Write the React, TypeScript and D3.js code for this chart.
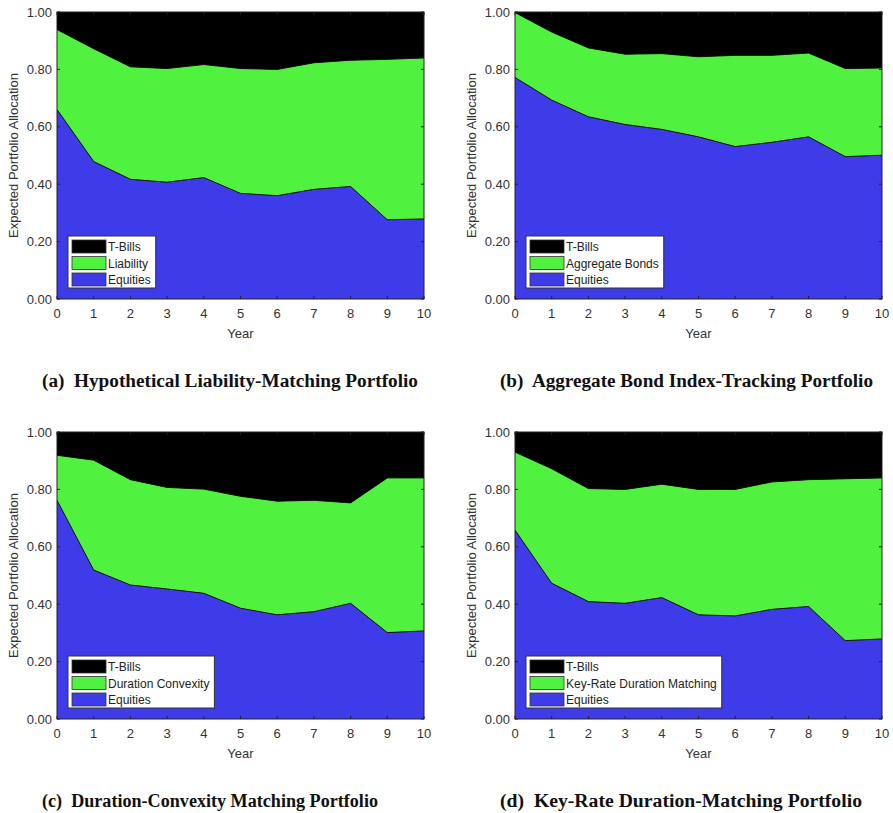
import React from "react";
import * as d3 from "d3";

const years = [0, 1, 2, 3, 4, 5, 6, 7, 8, 9, 10];
const yTicks = [0, 0.2, 0.4, 0.6, 0.8, 1.0];
const seriesKeys = ["equities", "bonds", "tbills"];
const colors = { equities: "#3d3ce8", bonds: "#50f23f", tbills: "#000000" };

// Panel (a)
const eqA = [0.660, 0.479, 0.417, 0.407, 0.423, 0.368, 0.360, 0.382, 0.392, 0.276, 0.279];
const bondA = [0.279, 0.393, 0.392, 0.396, 0.394, 0.435, 0.440, 0.441, 0.440, 0.559, 0.561];
const tbA = [0.061, 0.128, 0.191, 0.197, 0.183, 0.197, 0.200, 0.177, 0.168, 0.165, 0.160];
// Panel (b)
const eqB = [0.772, 0.693, 0.635, 0.608, 0.591, 0.565, 0.531, 0.546, 0.565, 0.496, 0.501];
const bondB = [0.226, 0.237, 0.240, 0.245, 0.264, 0.279, 0.318, 0.303, 0.292, 0.307, 0.304];
const tbB = [0.002, 0.070, 0.125, 0.147, 0.145, 0.156, 0.151, 0.151, 0.143, 0.197, 0.195];
// Panel (c)
const eqC = [0.762, 0.519, 0.467, 0.453, 0.438, 0.386, 0.363, 0.374, 0.403, 0.301, 0.307];
const bondC = [0.157, 0.383, 0.367, 0.354, 0.363, 0.390, 0.396, 0.388, 0.350, 0.539, 0.533];
const tbC = [0.081, 0.098, 0.166, 0.193, 0.199, 0.224, 0.241, 0.238, 0.247, 0.160, 0.160];
// Panel (d)
const eqD = [0.658, 0.473, 0.409, 0.403, 0.423, 0.363, 0.359, 0.382, 0.392, 0.273, 0.279];
const bondD = [0.272, 0.399, 0.394, 0.397, 0.395, 0.437, 0.441, 0.444, 0.442, 0.564, 0.561];
const tbD = [0.070, 0.128, 0.197, 0.200, 0.182, 0.200, 0.200, 0.174, 0.166, 0.163, 0.160];

const bondLabels = ["Liability", "Aggregate Bonds", "Duration Convexity", "Key-Rate Duration Matching"];
const captions = [
  "(a)  Hypothetical Liability-Matching Portfolio",
  "(b)  Aggregate Bond Index-Tracking Portfolio",
  "(c)  Duration-Convexity Matching Portfolio",
  "(d)  Key-Rate Duration-Matching Portfolio",
];

const panelData = [
  [eqA, bondA, tbA],
  [eqB, bondB, tbB],
  [eqC, bondC, tbC],
  [eqD, bondD, tbD],
];

const layouts = [
  { x0: 57, x1: 424, y0: 12, y1: 299, capX: 42, capY: 387, capW: 376 },
  { x0: 515, x1: 882, y0: 12, y1: 299, capX: 500, capY: 387, capW: 373 },
  { x0: 57, x1: 424, y0: 432, y1: 719, capX: 42, capY: 807, capW: 336 },
  { x0: 515, x1: 882, y0: 432, y1: 719, capX: 500, capY: 807, capW: 362 },
];

const sans = "Arial, 'Liberation Sans', Helvetica, sans-serif";
const serif = "'Times New Roman', 'Liberation Serif', serif";

function measure(text: string, font: string): number {
  const c = document.createElement("canvas");
  const ctx = c.getContext("2d");
  if (!ctx) return text.length * 6;
  ctx.font = font;
  return ctx.measureText(text).width;
}

function Panel({ idx }: { idx: number }) {
  const L = layouts[idx];
  const [eq, bond, tb] = panelData[idx];
  const rows = years.map((y, i) => ({ year: y, equities: eq[i], bonds: bond[i], tbills: tb[i] }));
  const stack = d3.stack<any>().keys(seriesKeys)(rows);
  const x = d3.scaleLinear().domain([0, 10]).range([L.x0, L.x1]);
  const y = d3.scaleLinear().domain([0, 1]).range([L.y1, L.y0]);
  const area = d3
    .area<any>()
    .x((d) => x(d.data.year))
    .y0((d) => y(d[0]))
    .y1((d) => y(Math.min(1, d[1])));
  const line = d3
    .line<any>()
    .x((d) => x(d.data.year))
    .y((d) => y(Math.min(1, d[1])));

  const legendItems = [
    { label: "T-Bills", color: colors.tbills },
    { label: bondLabels[idx], color: colors.bonds },
    { label: "Equities", color: colors.equities },
  ];
  const textW = Math.max(...legendItems.map((it) => measure(it.label, `12px ${sans}`)));
  const lx = L.x0 + 11;
  const ly = L.y1 - 63;
  const lw = 40 + textW + 5;
  const lh = 52;

  return (
    <g>
      <defs>
        <clipPath id={`clip${idx}`}>
          <rect x={L.x0} y={L.y0} width={L.x1 - L.x0} height={L.y1 - L.y0} />
        </clipPath>
      </defs>
      <g clipPath={`url(#clip${idx})`}>
        <rect x={L.x0} y={L.y0} width={L.x1 - L.x0} height={L.y1 - L.y0} fill={colors.tbills} />
        {stack.map((s) => (
          <path key={s.key} d={area(s) || ""} fill={(colors as any)[s.key]} />
        ))}
        {stack.slice(0, 2).map((s) => (
          <path key={"l" + s.key} d={line(s) || ""} fill="none" stroke="#111" strokeWidth={1} />
        ))}
      </g>
      <rect x={L.x0} y={L.y0} width={L.x1 - L.x0} height={L.y1 - L.y0} fill="none" stroke="#222" strokeWidth={1} />
      {years.map((t) => (
        <g key={"xt" + t}>
          <line x1={x(t)} x2={x(t)} y1={L.y1} y2={L.y1 - 3} stroke="#222" />
          <line x1={x(t)} x2={x(t)} y1={L.y0} y2={L.y0 + 3} stroke="#222" />
          <text x={x(t)} y={L.y1 + 19} textAnchor="middle" fontFamily={sans} fontSize={13} fill="#333">
            {t}
          </text>
        </g>
      ))}
      {yTicks.map((t) => (
        <g key={"yt" + t}>
          <line x1={L.x0} x2={L.x0 + 3} y1={y(t)} y2={y(t)} stroke="#222" />
          <line x1={L.x1} x2={L.x1 - 3} y1={y(t)} y2={y(t)} stroke="#222" />
          <text x={L.x0 - 5} y={y(t) + 4.5} textAnchor="end" fontFamily={sans} fontSize={13} fill="#333">
            {d3.format(".2f")(t)}
          </text>
        </g>
      ))}
      <text x={(L.x0 + L.x1) / 2} y={L.y1 + 39} textAnchor="middle" fontFamily={sans} fontSize={13} fill="#333">
        Year
      </text>
      <text
        transform={`translate(${L.x0 - 39},${(L.y0 + L.y1) / 2}) rotate(-90)`}
        textAnchor="middle"
        fontFamily={sans}
        fontSize={13}
        fill="#333"
      >
        Expected Portfolio Allocation
      </text>
      <rect x={lx} y={ly} width={lw} height={lh} fill="#fff" stroke="#333" strokeWidth={1} />
      {legendItems.map((it, i) => (
        <g key={it.label}>
          <rect x={lx + 4} y={ly + 4 + i * 16.5} width={34} height={13} fill={it.color} stroke="#333" strokeWidth={0.8} />
          <text x={lx + 40} y={ly + 15 + i * 16.5} fontFamily={sans} fontSize={12} fill="#222">
            {it.label}
          </text>
        </g>
      ))}
      <text
        x={L.capX}
        y={L.capY}
        fontFamily={serif}
        fontSize={18}
        fontWeight="bold"
        fill="#111"
        textLength={L.capW}
        lengthAdjust="spacingAndGlyphs"
        style={{ whiteSpace: "pre" }}
      >
        {captions[idx]}
      </text>
    </g>
  );
}

export default function App() {
  return (
    <svg width={893} height={813} viewBox="0 0 893 813" style={{ position: "absolute", left: 0, top: 0, background: "#fff" }}>
      <rect x={0} y={0} width={893} height={813} fill="#fff" />
      {[0, 1, 2, 3].map((i) => (
        <Panel key={i} idx={i} />
      ))}
    </svg>
  );
}
